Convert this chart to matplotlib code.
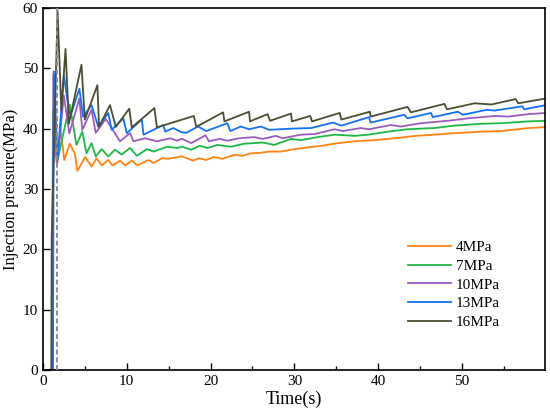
import matplotlib
matplotlib.use("Agg")
import matplotlib.pyplot as plt
from matplotlib.ticker import MultipleLocator

plt.rcParams['font.family'] = ['Liberation Serif', 'DejaVu Serif']

# data (time in s, pressure in MPa)
t_4 = [0, 1.1, 1.2, 1.7, 2.1, 2.55, 3.2, 3.8, 4.1, 5.05, 5.8, 6.4, 7.0, 7.8, 8.3, 9.2, 9.8,
       10.6, 11.25, 12.6, 13.2, 14.2, 15.0, 16.1, 16.6, 17.9, 18.65, 19.45, 20.4, 21.4, 22.8,
       23.8, 24.8, 26.0, 27.0, 28.4, 30.0, 31.6, 33.2, 35.2, 37.2, 39.6, 42.0, 44.4, 46.7,
       49.1, 52.3, 54.7, 57.9, 60]
p_4 = [0, 0, 38, 34, 40, 34.8, 37.5, 35.9, 33.0, 35.3, 33.7, 35.1, 33.9, 34.8, 33.9, 34.7, 33.9,
       34.7, 33.9, 34.8, 34.3, 35.1, 35.0, 35.3, 35.4, 34.7, 35.1, 34.8, 35.3, 35.0, 35.65,
       35.5, 35.9, 36.0, 36.2, 36.2, 36.6, 36.9, 37.15, 37.6, 37.9, 38.1, 38.4, 38.8, 39.0,
       39.25, 39.5, 39.6, 40.1, 40.25]

t_7 = [0, 1.1, 1.2, 1.7, 3.2, 4.0, 4.7, 5.2, 5.8, 6.3, 7.0, 7.8, 8.6, 9.4, 10.4, 11.2, 12.4,
       13.2, 14.8, 16.0, 16.6, 17.7, 18.7, 19.65, 20.8, 22.4, 24.0, 26.2, 27.6, 29.6, 30.8,
       32.8, 34.8, 37.2, 38.8, 41.2, 43.5, 46.7, 49.1, 52.3, 54.7, 57.9, 60]
p_7 = [0, 0, 43, 34.5, 44.0, 37.3, 39.5, 35.9, 37.6, 35.4, 36.6, 35.4, 36.5, 35.7, 36.8, 35.5, 36.6,
       36.2, 37.0, 36.8, 37.0, 36.5, 37.15, 36.8, 37.3, 37.0, 37.5, 37.7, 37.3, 38.3, 38.1,
       38.6, 39.0, 38.8, 39.0, 39.5, 39.9, 40.1, 40.5, 40.8, 40.9, 41.2, 41.3]

t_10 = [0, 1.15, 1.25, 1.7, 2.5, 3.15, 4.35, 4.7, 5.8, 6.3, 7.5, 9.2, 10.4, 10.8, 12.2, 13.6,
        15.2, 16.0, 16.6, 17.7, 19.4, 19.8, 21.1, 22.0, 23.4, 25.2, 26.2, 27.8, 28.6, 30.8,
        32.4, 34.8, 35.8, 37.9, 38.9, 41.5, 42.7, 45.1, 48.3, 50.7, 53.9, 55.5, 57.9, 60]
p_10 = [0, 0, 49, 34.5, 45.5, 39.2, 45.0, 39.8, 43.1, 39.3, 41.6, 37.9, 39.25, 37.9, 38.4, 37.9,
        38.4, 38.0, 38.3, 37.6, 38.9, 37.9, 38.3, 38.0, 38.4, 38.6, 38.3, 38.8, 38.4, 39.0,
        39.1, 39.9, 39.6, 40.1, 39.9, 40.6, 40.35, 40.9, 41.3, 41.7, 42.1, 42.0, 42.4, 42.6]

t_13 = [0, 1.2, 1.3, 1.75, 2.5, 3.15, 3.4, 4.35, 4.8, 5.8, 6.6, 7.8, 8.2, 9.6, 10.0, 11.8, 12.0,
        14.35, 14.6, 15.55, 16.55, 17.1, 18.5, 19.5, 22.0, 22.35, 23.6, 24.6, 26.0, 27.0, 29.6,
        32.0, 34.6, 35.6, 38.9, 39.1, 43.1, 43.5, 46.3, 46.5, 49.5, 50.1, 52.9, 53.9, 57.2,
        57.4, 60]
p_13 = [0, 0, 49.5, 35, 48.9, 42.5, 42.6, 46.6, 42.0, 43.9, 40.3, 42.6, 39.8, 41.7, 39.25, 41.5, 39.0,
        40.6, 39.5, 40.1, 39.4, 39.3, 40.35, 39.6, 40.9, 39.6, 40.35, 39.9, 40.35, 39.8, 40.0,
        40.1, 41.0, 40.5, 41.9, 41.0, 42.3, 41.7, 42.6, 41.9, 42.8, 42.3, 43.1, 43.0, 43.7,
        43.2, 43.9]

t_16 = [0, 1.0, 1.05, 1.75, 2.2, 2.7, 3.1, 4.6, 5.0, 6.5, 6.7, 8.0, 8.7, 10.3, 10.6, 13.3, 13.6,
        18.0, 18.3, 21.5, 21.65, 24.6, 24.7, 26.8, 27.1, 29.6, 29.7, 31.9, 32.1, 35.4, 35.6,
        39.0, 39.1, 43.5, 43.9, 47.9, 48.2, 51.5, 53.5, 56.4, 56.7, 60]
p_16 = [0, 0, 22, 59.5, 43, 53.2, 40.8, 50.6, 41.5, 47.2, 40.3, 43.9, 40.3, 43.3, 40.2, 43.4, 40.2,
        42.1, 40.3, 42.7, 41.2, 42.8, 41.2, 42.4, 41.3, 42.5, 41.2, 42.1, 41.2, 42.6, 41.5,
        42.8, 42.0, 43.6, 42.7, 44.1, 43.2, 44.2, 44.0, 44.9, 44.2, 45.0]

labels = ['4MPa', '7MPa', '10MPa', '13MPa', '16MPa']
colors = ['#FF8412', '#1DB845', '#9A5CC0', '#1470F5', '#4A4E33']
series = [(t_4, p_4), (t_7, p_7), (t_10, p_10), (t_13, p_13), (t_16, p_16)]
t_mark = 1.7

fig = plt.figure(figsize=(5.5, 4.19), dpi=100)
ax = fig.add_axes([0.078, 0.117, 0.913, 0.864])

for (t, p), lab, c in zip(series, labels, colors):
    ax.plot(t, p, color=c, lw=1.3, label=lab)

ax.axvline(t_mark, color='#8c8c8c', ls=(0, (2.5, 1.5)), lw=1.4, zorder=5)

ax.set_xlim(0, 59.9)
ax.set_ylim(0, 60)
ax.xaxis.set_major_locator(MultipleLocator(10))
ax.xaxis.set_minor_locator(MultipleLocator(5))
ax.yaxis.set_major_locator(MultipleLocator(10))
ax.tick_params(which='both', direction='in', labelsize=11, width=1)
ax.tick_params(which='major', length=5)
ax.tick_params(which='minor', length=3)
for s in ax.spines.values():
    s.set_linewidth(1.2)

ax.set_xlabel('Time(s)', fontsize=13, labelpad=2)
ax.set_ylabel('Injection pressure(MPa)', fontsize=12, labelpad=3)

ax.legend(loc='lower left', bbox_to_anchor=(0.70, 0.075), frameon=False, fontsize=11,
          handlelength=2.8, labelspacing=0.33, handletextpad=0.3)

fig.savefig('out.png', dpi=100)
